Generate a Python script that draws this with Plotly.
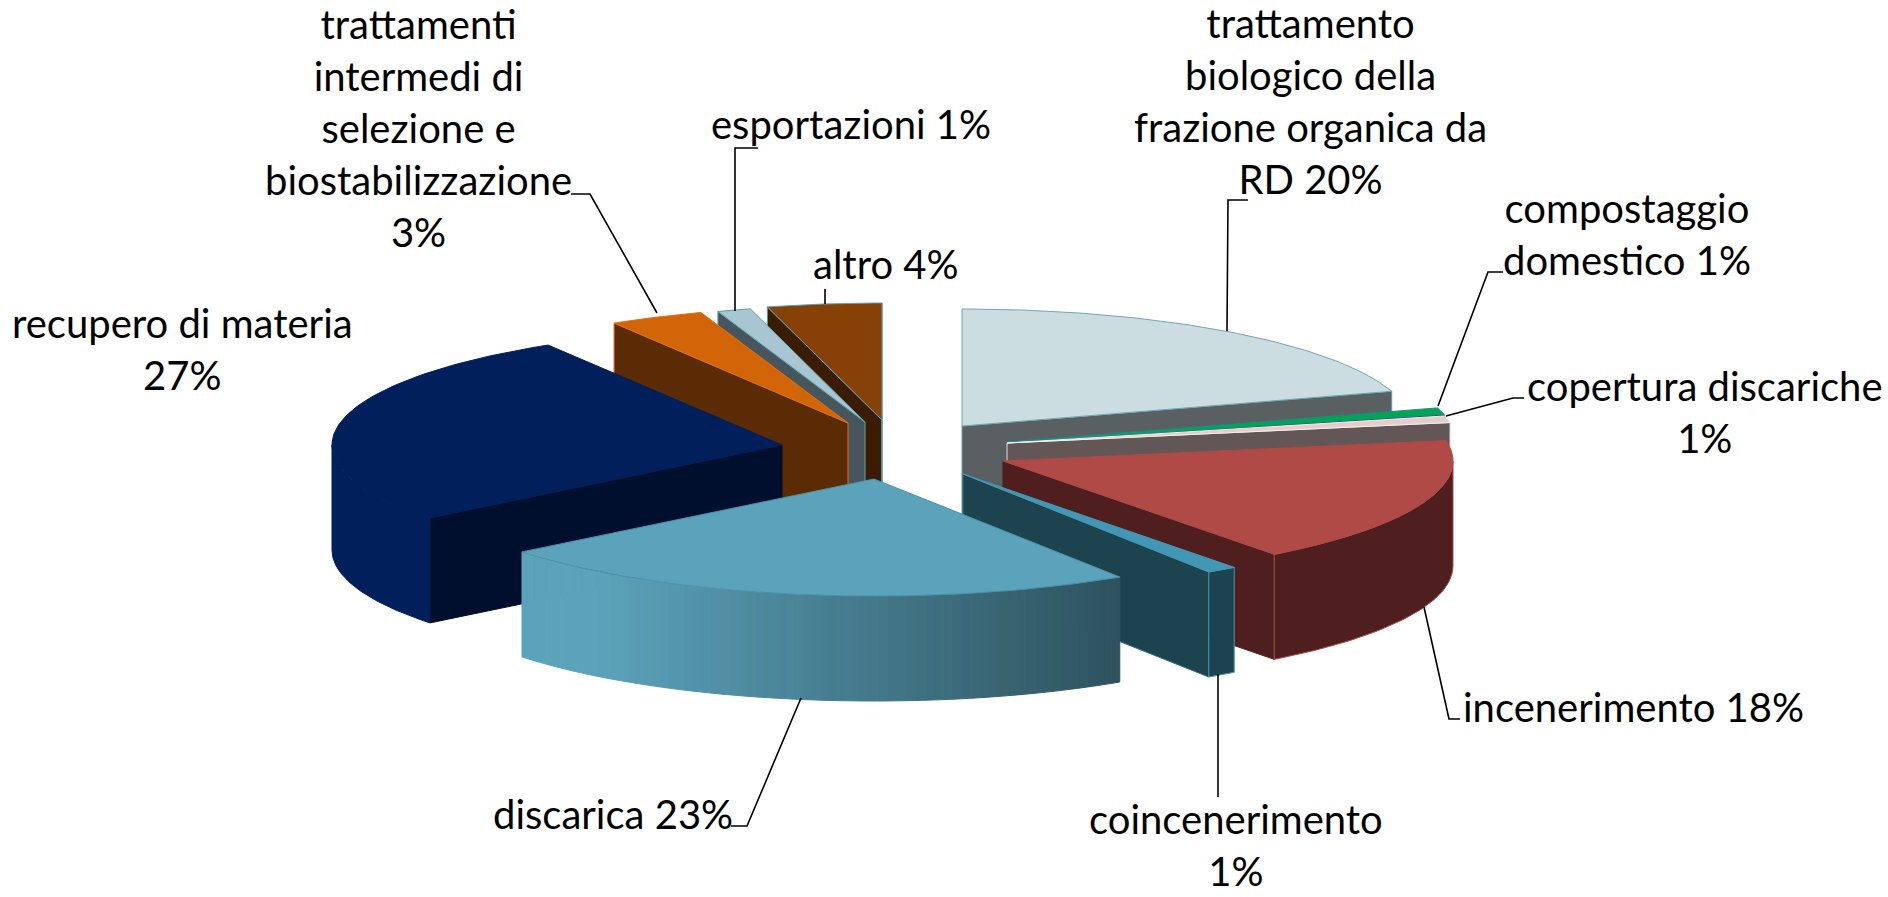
import numpy as np
import plotly.graph_objects as go

# ---- data ----
categories = ["trattamento biologico della frazione organica da RD", "compostaggio domestico",
              "copertura discariche", "incenerimento", "coincenerimento", "discarica",
              "recupero di materia", "trattamenti intermedi di selezione e biostabilizzazione",
              "esportazioni", "altro"]
values = [20.2, 1.0, 1.0, 17.5, 1.1, 23.49, 27.0, 3.4, 1.2, 4.1]

# ---- style of each slice ----
top_colors = ["#CBDDE1", "#00A651", "#E6CDCC", "#B04A47", "#4298B4", "#5BA3BB", "#001F5B", "#D26507", "#A8C5D2", "#874107"]
wall_colors = ["#5A6061", "#1D5A5A", "#625756", "#4F1F1F", "#1D444E", "#1D444E", "#000F2D", "#5A2B04", "#47565D", "#3A1C02"]
wall_edges = ["#5F9FB0", "#1D5A5A", "#E6E3D8", "#4F1F1F", "#2F6F85", "#1D444E", "#000F2D", "#E07010", "#5FA0B0", "#5FA0B0"]
outer_colors = ["#5A6061", "#1D5A5A", "#625756", "#4F1F1F", "#1D444E", "#5BA3BB", "#001F5B", "#5A2B04", "#47565D", "#3A1C02"]
edge_colors = ["#6FA6B6", "#1E8A8A", "#F2F0E8", "#B04A47", "#4298B4", "#4A93A8", "#001F5B", "#E07010", "#5FA0B0", "#5FA0B0"]
explode_x = [82, 127, 127, 123, 83, -6, -98, -32, -15, 2]
explode_y = [-24, -8, -7, 11, 24, 29, -5, -27, -28, -30]
draw_order = [9, 8, 7, 0, 1, 2, 6, 3, 4, 5]

CX, CY, R, K, H = 880, 450, 450, 0.26, 105
FONT = "Lato"
FS = 40


def rim(i, angles, z=0):
    a = np.radians(angles)
    return (CX + explode_x[i] + R * np.sin(a),
            CY + explode_y[i] - K * R * np.cos(a) + z)


def polygon(xs, ys, color, line=None, name=""):
    return go.Scatter(x=list(xs) + [xs[0]], y=list(ys) + [ys[0]], mode="lines", fill="toself",
                      fillcolor=color, line=dict(color=line or color, width=1),
                      hoverinfo="skip", showlegend=False, name=name)


def mix(c1, c2, t):
    a = [int(c1[j:j + 2], 16) for j in (1, 3, 5)]
    b = [int(c2[j:j + 2], 16) for j in (1, 3, 5)]
    return "#%02X%02X%02X" % tuple(round(p + (q - p) * t) for p, q in zip(a, b))


fig = go.Figure()
edges = np.cumsum([0] + values) / sum(values) * 360
for i in draw_order:
    a0, a1 = edges[i], edges[i + 1]
    ax, ay = CX + explode_x[i], CY + explode_y[i]
    # radial walls that face the viewer
    for ang, test in ((a0, np.sin(np.radians(a0)) < 0), (a1, np.sin(np.radians(a1)) > 0)):
        if test:
            x, y = rim(i, [ang])
            fig.add_trace(polygon([ax, x[0], x[0], ax], [ay, y[0], y[0] + H, ay + H], wall_colors[i],
                                  line=wall_edges[i], name=categories[i]))
    # outer wall
    lo, hi = max(a0, 90), min(a1, 270)
    if hi > lo:
        if categories[i] == "discarica":
            steps = np.linspace(lo, hi, 71)
            xmin, xmax = rim(i, [steps[-1]])[0][0], rim(i, [steps[0]])[0][0]
            for s0, s1 in zip(steps[:-1], steps[1:]):
                arc = np.linspace(s0, s1, 3)
                x, y = rim(i, arc)
                t = ((x.mean() - xmin) / (xmax - xmin))
                col = mix("#5BA3BB", "#2E525E", max(0, (t - 0.12) / 0.88))
                fig.add_trace(polygon(list(x) + list(x[::-1]), list(y) + list(y[::-1] + H), col, name=categories[i]))
        else:
            arc = np.linspace(lo, hi, 60)
            x, y = rim(i, arc)
            fig.add_trace(polygon(list(x) + list(x[::-1]), list(y) + list(y[::-1] + H), outer_colors[i], line=edge_colors[i], name=categories[i]))
    # top face
    arc = np.linspace(a0, a1, 80)
    x, y = rim(i, arc)
    fig.add_trace(polygon([ax] + list(x), [ay] + list(y), top_colors[i], line=edge_colors[i], name=categories[i]))

# ---- leader lines ----
leaders = [
    [(571, 194), (590, 194), (657, 313)],
    [(758, 148), (735, 148), (735, 311)],
    [(825, 289), (825, 304)],
    [(1248, 200), (1228, 200), (1227, 331)],
    [(1503, 272), (1488, 272), (1438, 406)],
    [(1524, 398), (1513, 398), (1446, 416)],
    [(1424, 607), (1449, 719), (1460, 719)],
    [(1218, 674), (1218, 797)],
    [(801, 698), (747, 826), (731, 826)],
]
shapes = []
for pts in leaders:
    path = "M " + " L ".join(f"{px},{py}" for px, py in pts)
    shapes.append(dict(type="path", path=path, line=dict(color="black", width=1.6), layer="above"))

# ---- labels ----
labels = [
    ("trattamenti<br>intermedi di<br>selezione e<br>biostabilizzazione<br>3%", 418, 128),
    ("esportazioni 1%", 851, 124),
    ("altro 4%", 886, 264),
    ("trattamento<br>biologico della<br>frazione organica da<br>RD 20%", 1310, 101),
    ("compostaggio<br>domestico 1%", 1627, 234),
    ("copertura discariche<br>1%", 1705, 412),
    ("incenerimento 18%", 1633, 707),
    ("coincenerimento<br>1%", 1236, 845),
    ("discarica 23%", 613, 814),
    ("recupero di materia<br>27%", 182, 349),
]
annotations = [dict(text=t, x=x, y=y, xref="x", yref="y", showarrow=False, xanchor="center",
                    yanchor="middle", align="center", font=dict(family=FONT, size=FS, color="black"))
               for t, x, y in labels]

fig.update_layout(width=1888, height=897, margin=dict(l=0, r=0, t=0, b=0), paper_bgcolor="white",
                  plot_bgcolor="white", showlegend=False, shapes=shapes, annotations=annotations,
                  xaxis=dict(range=[0, 1888], visible=False, fixedrange=True),
                  yaxis=dict(range=[897, 0], visible=False, fixedrange=True))
fig.write_html("out.html", post_script="document.body.style.margin='0';document.body.style.overflow='hidden';",
               config=dict(displayModeBar=False))
